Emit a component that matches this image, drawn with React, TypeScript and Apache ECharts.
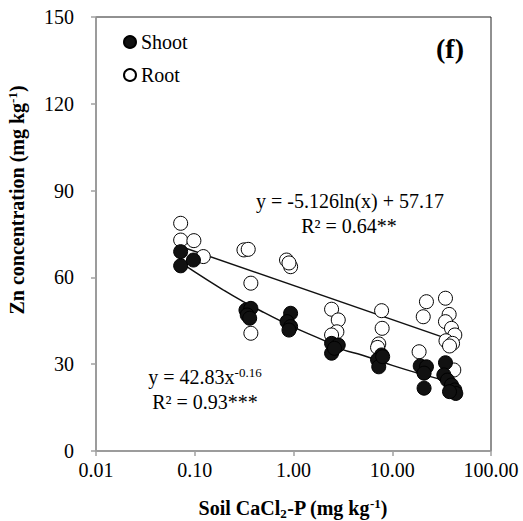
import React, { useEffect, useRef } from "react";
import * as echarts from "echarts";

const shootX = [0.072, 0.072, 0.097, 0.33, 0.37, 0.34, 0.36, 0.935, 0.86, 0.935, 0.9, 2.43, 2.84, 2.43, 2.6, 7.8, 7.1, 7.3, 8.0, 19.2, 22.2, 21, 21, 34.6, 33.3, 36.2, 39.8, 43, 44, 38];
const shootY = [68.9, 64, 66, 48.7, 49.3, 47, 45.9, 47.6, 44.7, 43, 41.8, 37.2, 36.6, 33.8, 35.5, 33.2, 31.5, 29.1, 32.6, 29.4, 29.1, 26.9, 21.7, 30.5, 26.3, 24.5, 22.8, 21.1, 19.9, 20.5];

const rootX = [0.072, 0.072, 0.098, 0.122, 0.315, 0.348, 0.37, 0.37, 0.85, 0.935, 0.9, 2.43, 2.84, 2.75, 2.43, 7.8, 7.9, 7.3, 7.1, 22.2, 20.6, 18.7, 20.6, 34.6, 37.7, 34.6, 39.8, 43, 35, 40.8, 42, 38];
const rootY = [78.7, 72.9, 72.7, 67.2, 69.5, 69.7, 58, 40.7, 66, 63.7, 65, 49, 45.3, 41.2, 40.1, 48.5, 42.4, 37, 35.8, 51.6, 46.4, 34.3, 28, 52.8, 47.2, 44.7, 42.4, 40.1, 38.1, 37.2, 28, 36.3];

const rootTrendX = [0.072, 44];
const rootTrendY = [70.7, 37.8];
const shootTrendX = [0.072, 0.1, 0.2, 0.3, 0.5, 1, 2, 3, 5, 10, 20, 30, 44];
const shootTrendY = [65.3, 61.9, 55.4, 51.9, 47.9, 42.8, 38.3, 35.3, 33.1, 29.6, 26.5, 24.9, 23.4];

const yTicks = [0, 30, 60, 90, 120, 150];

const FONT = "'Liberation Serif', 'Times New Roman', serif";

const zip = (xs: number[], ys: number[]) => xs.map((x, i) => [x, ys[i]]);

export default function App() {
  const ref = useRef<HTMLDivElement>(null);
  useEffect(() => {
    if (!ref.current) return;
    const chart = echarts.init(ref.current, undefined, { renderer: "svg" });
    const supRich = {
      sub: { fontSize: 13, fontWeight: "bold", fontFamily: FONT, padding: [10, 0, 0, 0] },
      sup: { fontSize: 13, fontWeight: "bold", fontFamily: FONT, padding: [0, 0, 10, 0] },
    };
    const eqText = (x: number, y: number, text: string) => ({
      type: "text",
      x,
      y,
      style: {
        text,
        fontFamily: FONT,
        fontSize: 20,
        fill: "#000",
        align: "center",
        verticalAlign: "middle",
        rich: { s: { fontSize: 13, fontFamily: FONT, padding: [0, 0, 10, 0] } },
      },
    });
    chart.setOption({
      animation: false,
      backgroundColor: "#fff",
      grid: {
        left: 96,
        right: 32,
        top: 17,
        bottom: 70,
        show: true,
        borderColor: "#222",
        borderWidth: 1,
      },
      legend: {
        data: ["Shoot", "Root"],
        orient: "vertical",
        left: 123,
        top: 32,
        padding: 0,
        icon: "circle",
        itemWidth: 12,
        itemHeight: 12,
        itemGap: 13,
        textStyle: { fontFamily: FONT, fontSize: 20, color: "#000", lineHeight: 20 },
      },
      xAxis: {
        type: "log",
        logBase: 10,
        min: 0.01,
        max: 100,
        axisLine: { show: true, lineStyle: { color: "#a0a0a0", width: 1.5 } },
        axisTick: { show: true, length: 5, lineStyle: { color: "#a0a0a0", width: 1.5 } },
        splitLine: { show: false },
        minorTick: { show: false },
        axisLabel: {
          fontFamily: FONT,
          fontSize: 20,
          color: "#000",
          margin: 9,
          formatter: (v: number) => v.toFixed(2),
        },
      },
      yAxis: {
        type: "value",
        min: yTicks[0],
        max: yTicks[yTicks.length - 1],
        interval: 30,
        axisLine: { show: true, lineStyle: { color: "#a0a0a0", width: 1.5 } },
        axisTick: { show: true, length: 5, lineStyle: { color: "#a0a0a0", width: 1.5 } },
        splitLine: { show: false },
        axisLabel: { fontFamily: FONT, fontSize: 20, color: "#000", margin: 22 },
      },
      graphic: [
        {
          type: "text",
          x: 293,
          y: 508,
          style: {
            text: "Soil CaCl{sub|2}-P (mg kg{sup|-1})",
            fontFamily: FONT,
            fontSize: 20,
            fontWeight: "bold",
            fill: "#000",
            align: "center",
            verticalAlign: "middle",
            rich: supRich,
          },
        },
        {
          type: "text",
          x: 17,
          y: 200,
          rotation: Math.PI / 2,
          style: {
            text: "Zn concentration (mg kg{sup|-1})",
            fontFamily: FONT,
            fontSize: 20,
            fontWeight: "bold",
            fill: "#000",
            align: "center",
            verticalAlign: "middle",
            rich: supRich,
          },
        },
        {
          type: "text",
          x: 450,
          y: 48,
          style: {
            text: "(f)",
            fontFamily: FONT,
            fontSize: 28,
            fontWeight: "bold",
            fill: "#000",
            align: "center",
            verticalAlign: "middle",
          },
        },
        eqText(350, 201, "y = -5.126ln(x) + 57.17"),
        eqText(349, 226, "R² = 0.64**"),
        eqText(205, 377, "y = 42.83x{s|-0.16}"),
        eqText(205, 402, "R² = 0.93***"),
      ],
      series: [
        {
          name: "Root trend",
          type: "line",
          data: zip(rootTrendX, rootTrendY),
          showSymbol: false,
          symbol: "none",
          lineStyle: { color: "#111", width: 1.5 },
          z: 1,
        },
        {
          name: "Shoot trend",
          type: "line",
          data: zip(shootTrendX, shootTrendY),
          showSymbol: false,
          symbol: "none",
          smooth: true,
          lineStyle: { color: "#111", width: 1.5 },
          z: 1,
        },
        {
          name: "Shoot",
          type: "scatter",
          data: zip(shootX, shootY),
          symbol: "circle",
          symbolSize: 14,
          itemStyle: { color: "#111", borderColor: "#000", borderWidth: 1, opacity: 1 },
          z: 3,
        },
        {
          name: "Root",
          type: "scatter",
          data: zip(rootX, rootY),
          symbol: "circle",
          symbolSize: 14,
          itemStyle: { color: "#fff", borderColor: "#000", borderWidth: 1, opacity: 1 },
          z: 2,
        },
      ],
    });
    return () => chart.dispose();
  }, []);
  return <div ref={ref} style={{ width: 523, height: 521, position: "absolute", left: 0, top: 0 }} />;
}
